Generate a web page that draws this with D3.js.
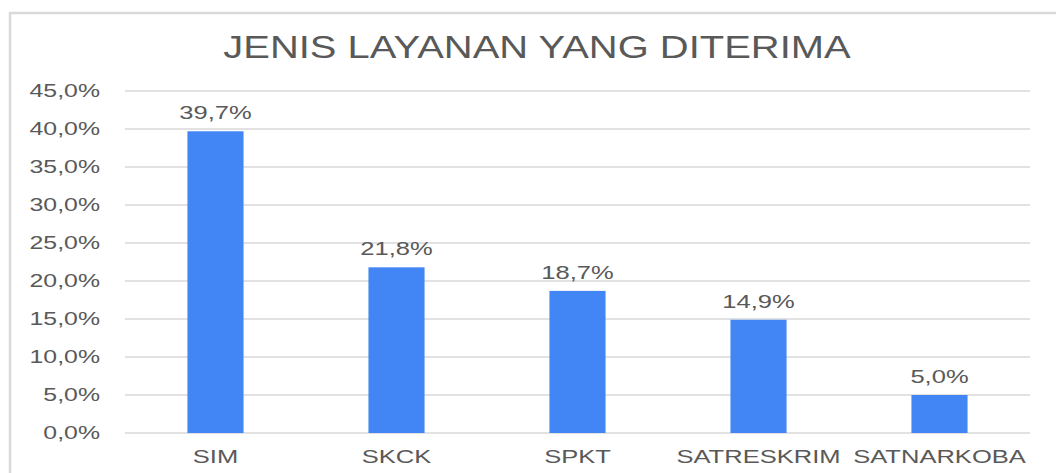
<!DOCTYPE html>
<html>
<head>
<meta charset="utf-8">
<script src="https://cdn.jsdelivr.net/npm/d3@7"></script>
<style>
  body { margin: 0; background: #fff; }
  svg { display: block; font-family: "Liberation Sans", Arial, sans-serif; }
</style>
</head>
<body>
<svg id="chart" width="1056" height="473"></svg>
<script>
// data
const categories = ["SIM", "SKCK", "SPKT", "SATRESKRIM", "SATNARKOBA"];
const values = [39.7, 21.8, 18.7, 14.9, 5.0];
const yTicks = [0, 5, 10, 15, 20, 25, 30, 35, 40, 45];
const chartTitle = "JENIS LAYANAN YANG DITERIMA";

const width = 1056, height = 473;
const plot = {left: 125, right: 1030, top: 91, bottom: 433};
const textColor = "#595959";
const stretch = 1.42;   // the picture is wider than the font

const fmt = v => v.toFixed(1).replace(".", ",") + "%";

const svg = d3.select("#chart");

// outer frame
svg.append("rect")
   .attr("x", 10)
   .attr("y", 13)
   .attr("width", 1100)
   .attr("height", 500)
   .attr("fill", "none")
   .attr("stroke", "#d9d9d9")
   .attr("stroke-width", 2.5);

let x = d3.scaleBand()
          .domain(categories)
          .range([plot.left, plot.right])
          .paddingInner(0.69)
          .paddingOuter(0.345);

let y = d3.scaleLinear()
          .domain([0, 45])
          .range([plot.bottom, plot.top]);

// helper: stretched text placed at (px, py)
function sText(sel, px, py, sx) {
  return sel.attr("transform", (d, i) =>
    "translate(" + px(d, i) + "," + py(d, i) + ") scale(" + sx + ",1)");
}

// title
svg.append("text")
   .attr("text-anchor", "middle")
   .attr("transform", "translate(537,58) scale(1.31,1)")
   .style("font-size", "30.5px")
   .style("fill", textColor)
   .text(chartTitle);

// gridlines
svg.append("g")
   .selectAll("line")
   .data(yTicks)
   .enter()
   .append("line")
   .attr("x1", plot.left)
   .attr("x2", plot.right)
   .attr("y1", d => y(d))
   .attr("y2", d => y(d))
   .attr("stroke", "#d9d9d9")
   .attr("stroke-width", 1.5);

// y tick labels
sText(svg.append("g")
   .selectAll("text")
   .data(yTicks)
   .enter()
   .append("text")
   .attr("text-anchor", "end")
   .style("font-size", "17.5px")
   .style("fill", textColor)
   .text(d => fmt(d)),
   () => 100, d => y(d) + 6.3, stretch);

// bars
svg.append("g")
   .selectAll("rect")
   .data(values)
   .enter()
   .append("rect")
   .attr("x", (d, i) => x(categories[i]))
   .attr("y", d => y(d))
   .attr("width", x.bandwidth())
   .attr("height", d => y(0) - y(d))
   .attr("fill", "#4285f4");

// value labels
sText(svg.append("g")
   .selectAll("text")
   .data(values)
   .enter()
   .append("text")
   .attr("text-anchor", "middle")
   .style("font-size", "18px")
   .style("fill", textColor)
   .text(d => fmt(d)),
   (d, i) => x(categories[i]) + x.bandwidth() / 2, d => y(d) - 12, stretch);

// category labels
sText(svg.append("g")
   .selectAll("text")
   .data(categories)
   .enter()
   .append("text")
   .attr("text-anchor", "middle")
   .style("font-size", "18px")
   .style("fill", textColor)
   .text(d => d),
   d => x(d) + x.bandwidth() / 2, () => 463, stretch);
</script>
</body>
</html>
